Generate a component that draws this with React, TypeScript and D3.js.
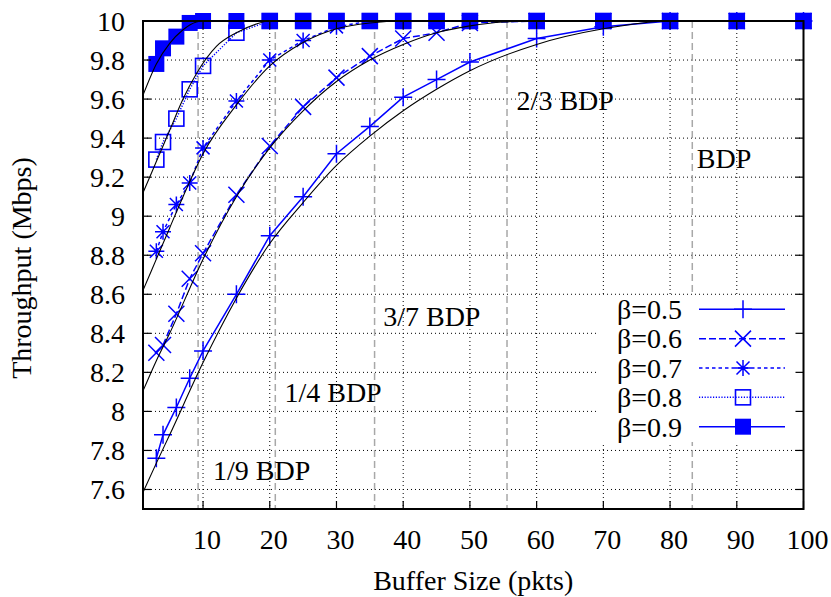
import React from "react";
import * as d3 from "d3";

const xTicks = [10, 20, 30, 40, 50, 60, 70, 80, 90, 100];
const yTicks = [7.6, 7.8, 8, 8.2, 8.4, 8.6, 8.8, 9, 9.2, 9.4, 9.6, 9.8, 10];
const yTickLabels = ["7.6", "7.8", "8", "8.2", "8.4", "8.6", "8.8", "9", "9.2", "9.4", "9.6", "9.8", "10"];

const bufferSizes = [3, 4, 6, 8, 10, 15, 20, 25, 30, 35, 40, 45, 50, 60, 70, 80, 90, 100];
const beta05 = [7.76, 7.88, 8.02, 8.17, 8.31, 8.6, 8.9, 9.1, 9.32, 9.46, 9.61, 9.7, 9.79, 9.91, 9.97, 10, 10, 10];
const beta06 = [8.3, 8.34, 8.5, 8.68, 8.81, 9.11, 9.36, 9.56, 9.71, 9.82, 9.91, 9.94, 9.99, 10, 10, 10, 10, 10];
const beta07 = [8.82, 8.92, 9.06, 9.17, 9.35, 9.59, 9.8, 9.9, 9.97, 10, 10, 10, 10, 10, 10, 10, 10, 10];
const beta08 = [9.29, 9.38, 9.5, 9.65, 9.77, 9.94, 10, 10, 10, 10, 10, 10, 10, 10, 10, 10, 10, 10];
const beta09 = [9.78, 9.86, 9.92, 9.99, 10, 10, 10, 10, 10, 10, 10, 10, 10, 10, 10, 10, 10, 10];

// analytical model curves (black)
const model05X = [1, 3, 5, 10, 15, 20, 25, 30, 35, 40, 45, 50, 60, 70, 80, 100];
const model05Y = [7.585, 7.735, 7.88, 8.25, 8.58, 8.86, 9.07, 9.26, 9.41, 9.54, 9.65, 9.745, 9.88, 9.96, 10, 10];
const model06X = [1, 3, 5, 10, 15, 20, 25, 30, 35, 40, 45, 50, 55, 60, 100];
const model06Y = [8.105, 8.26, 8.4, 8.78, 9.1, 9.35, 9.54, 9.69, 9.8, 9.88, 9.94, 9.975, 9.995, 10, 10];
const model07X = [1, 3, 5, 7, 10, 15, 20, 25, 30, 35, 40, 100];
const model07Y = [8.62, 8.78, 8.94, 9.1, 9.32, 9.57, 9.77, 9.89, 9.96, 9.99, 10, 10];
const model08X = [1, 3, 5, 7, 9, 12, 15, 18, 20, 100];
const model08Y = [9.12, 9.28, 9.44, 9.6, 9.73, 9.87, 9.94, 9.985, 10, 10];
const model09X = [1, 3, 5, 7, 9, 10, 100];
const model09Y = [9.62, 9.78, 9.885, 9.955, 9.995, 10, 10];

const seriesNames = ["β=0.5", "β=0.6", "β=0.7", "β=0.8", "β=0.9"];

const bdpMarks = [9.26, 20.83, 35.71, 55.56, 83.33];
const bdpLabels = ["1/9 BDP", "1/4 BDP", "3/7 BDP", "2/3 BDP", "BDP"];
const bdpLabelX = [11.5, 22.2, 37.0, 57.0, 84.0];
const bdpLabelY = [7.65, 8.05, 8.44, 9.545, 9.245];

const W = 831;
const H = 597;
const L = 143, R = 803.5, T = 21, B = 509;
const BLUE = "#0000ff";
const FONT = "'Liberation Serif', 'Times New Roman', Times, serif";

function Marker({ kind, x, y }: { kind: number; x: number; y: number }) {
  if (kind === 0) {
    return <path d={`M${x - 9},${y}H${x + 9}M${x},${y - 9}V${y + 9}`} stroke={BLUE} strokeWidth={1.5} fill="none" />;
  }
  if (kind === 1) {
    return <path d={`M${x - 8},${y - 8}L${x + 8},${y + 8}M${x - 8},${y + 8}L${x + 8},${y - 8}`} stroke={BLUE} strokeWidth={1.5} fill="none" />;
  }
  if (kind === 2) {
    return (
      <path
        d={`M${x - 8},${y}H${x + 8}M${x},${y - 8}V${y + 8}M${x - 6.5},${y - 6.5}L${x + 6.5},${y + 6.5}M${x - 6.5},${y + 6.5}L${x + 6.5},${y - 6.5}`}
        stroke={BLUE}
        strokeWidth={1.5}
        fill="none"
      />
    );
  }
  if (kind === 3) {
    return <rect x={x - 7.5} y={y - 7.5} width={15} height={15} stroke={BLUE} strokeWidth={1.6} fill="none" />;
  }
  return <rect x={x - 8} y={y - 8} width={16} height={16} fill={BLUE} />;
}

export default function App() {
  const x = d3.scaleLinear().domain([1, 100]).range([L, R]);
  const y = d3.scaleLinear().domain([7.5, 10]).range([B, T]);

  const blueSeries = [beta05, beta06, beta07, beta08, beta09];
  const dashes = [undefined, "7,3", "3.5,3", "1.2,1.6", undefined];
  const models: [number[], number[]][] = [
    [model05X, model05Y],
    [model06X, model06Y],
    [model07X, model07Y],
    [model08X, model08Y],
    [model09X, model09Y],
  ];

  const straight = d3
    .line<[number, number]>()
    .x((d) => x(d[0]))
    .y((d) => y(d[1]));
  const smooth = d3
    .line<[number, number]>()
    .x((d) => x(d[0]))
    .y((d) => y(d[1]))
    .curve(d3.curveMonotoneX);

  const legendRowY = (i: number) => 309.3 + i * 29.35;

  return (
    <svg width={W} height={H} style={{ position: "absolute", left: 0, top: 0 }} fontFamily={FONT}>
      <rect x={0} y={0} width={W} height={H} fill="#fff" />
      {/* grid */}
      {yTicks.slice(0, -1).map((t) => (
        <line key={"gy" + t} x1={L} x2={R} y1={y(t)} y2={y(t)} stroke="#000" strokeWidth={1} strokeDasharray="1,3" />
      ))}
      {xTicks.slice(0, -1).map((t) => (
        <line key={"gx" + t} x1={x(t)} x2={x(t)} y1={T} y2={B} stroke="#000" strokeWidth={1} strokeDasharray="1,3" />
      ))}
      {/* BDP reference lines */}
      {bdpMarks.map((m) => (
        <line key={"bdp" + m} x1={x(m)} x2={x(m)} y1={T} y2={B} stroke="#a8a8a8" strokeWidth={1.5} strokeDasharray="7,4" />
      ))}
      {bdpLabels.map((lab, i) => (
        <text key={lab} x={x(bdpLabelX[i])} y={y(bdpLabelY[i])} fontSize={28} fill="#000">
          {lab}
        </text>
      ))}
      {/* legend background */}
      <rect x={598} y={296} width={203} height={146} fill="#fff" />
      {/* measured series */}
      {blueSeries.map((s, i) => {
        const pts: [number, number][] = bufferSizes.map((b, j) => [b, s[j]]);
        return (
          <g key={"s" + i}>
            <path d={straight(pts) || ""} fill="none" stroke={BLUE} strokeWidth={1.5} strokeDasharray={dashes[i]} />
            {pts.map((p, j) => (
              <Marker key={j} kind={i} x={x(p[0])} y={y(p[1])} />
            ))}
          </g>
        );
      })}
      {/* model curves */}
      {models.map(([mx, my], i) => {
        const pts: [number, number][] = mx.map((v, j) => [v, my[j]]);
        return <path key={"m" + i} d={smooth(pts) || ""} fill="none" stroke="#000" strokeWidth={1.1} />;
      })}
      {/* legend */}
      {seriesNames.map((n, i) => {
        const ly = legendRowY(i);
        return (
          <g key={"lg" + i}>
            <text x={682} y={ly} dy="0.35em" textAnchor="end" fontSize={28} fill="#000">
              {n}
            </text>
            <line x1={699} x2={785} y1={ly} y2={ly} stroke={BLUE} strokeWidth={1.5} strokeDasharray={dashes[i]} />
            <Marker kind={i} x={743} y={ly} />
          </g>
        );
      })}
      {/* ticks */}
      {yTicks.map((t) => (
        <g key={"ty" + t}>
          <line x1={L} x2={L + 8} y1={y(t)} y2={y(t)} stroke="#000" strokeWidth={1.2} />
          <line x1={R - 8} x2={R} y1={y(t)} y2={y(t)} stroke="#000" strokeWidth={1.2} />
        </g>
      ))}
      {xTicks.map((t) => (
        <g key={"tx" + t}>
          <line x1={x(t)} x2={x(t)} y1={B} y2={B - 8} stroke="#000" strokeWidth={1.2} />
          <line x1={x(t)} x2={x(t)} y1={T} y2={T + 8} stroke="#000" strokeWidth={1.2} />
        </g>
      ))}
      {/* border */}
      <rect x={L} y={T} width={R - L} height={B - T} fill="none" stroke="#000" strokeWidth={2} />
      {/* tick labels */}
      {yTicks.map((t, i) => (
        <text key={"ly" + t} x={125} y={y(t)} dy="0.35em" textAnchor="end" fontSize={28} fill="#000">
          {yTickLabels[i]}
        </text>
      ))}
      {xTicks.map((t) => (
        <text key={"lx" + t} x={x(t) + 4} y={549} textAnchor="middle" fontSize={28} fill="#000">
          {t}
        </text>
      ))}
      {/* axis titles */}
      <text x={(L + R) / 2} y={590} textAnchor="middle" fontSize={28} fill="#000">
        Buffer Size (pkts)
      </text>
      <text transform={`translate(31,268) rotate(-90)`} textAnchor="middle" fontSize={28} fill="#000">
        Throughput (Mbps)
      </text>
    </svg>
  );
}
